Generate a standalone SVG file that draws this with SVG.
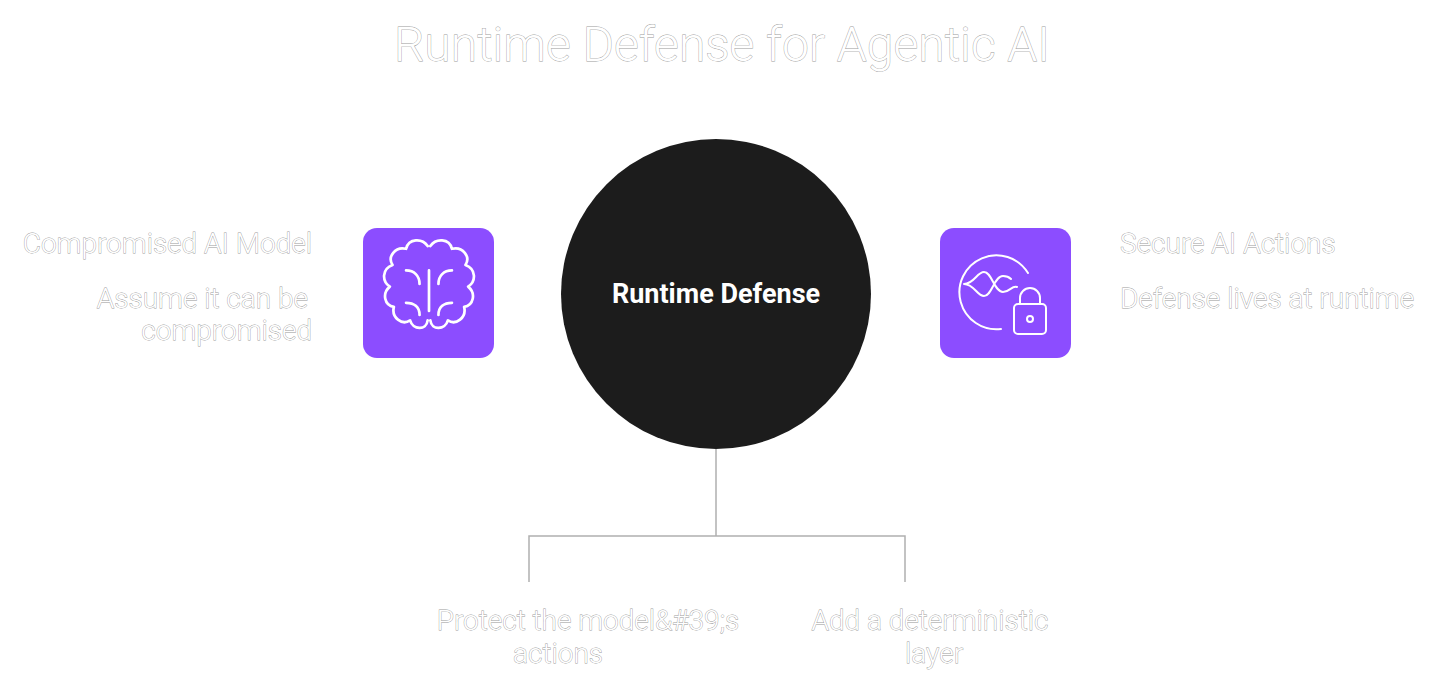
<svg xmlns="http://www.w3.org/2000/svg" width="1440" height="695" viewBox="0 0 1440 695">
<style>
.t{font-family:Roboto,"Liberation Sans",sans-serif;font-weight:300;fill:#fff;stroke:#9a9a9a;stroke-width:0.8;paint-order:stroke}
.lbl{font-size:28px}
.box{fill:#8c4dff}
.ic{fill:none;stroke:#fff;stroke-width:2;stroke-linecap:round;stroke-linejoin:round}
.con{fill:none;stroke:#b0b0b0;stroke-width:1.5}
</style>
<text class="t" x="722" y="61" font-size="48" text-anchor="middle">Runtime Defense for Agentic AI</text>
<g id="connectors">
<path class="con" d="M716 449V536M529 582V536H905V582"/>
</g>
<g id="center">
<circle cx="716" cy="294" r="155" fill="#1c1c1c"/>
<text x="716" y="303" font-family="Roboto,'Liberation Sans',sans-serif" font-size="27" font-weight="bold" fill="#fff" text-anchor="middle">Runtime Defense</text>
</g>
<g id="left-icon">
<rect class="box" x="363" y="228" width="131" height="130" rx="14"/>
<g class="ic" transform="translate(429 292) scale(1.35) translate(-429 -292)">
<path d="M428 258c-4-6-14-6-16 2c-8-2-14 6-10 12c-8 3-8 12-2 16c-6 5-4 14 3 15c-2 8 6 14 12 10c2 7 12 8 13 0"/>
<path d="M430 258c4-6 14-6 16 2c8-2 14 6 10 12c8 3 8 12 2 16c6 5 4 14-3 15c2 8-6 14-12 10c-2 7-12 8-13 0"/>
<path d="M429 276v30M412 276c6 0 10 4 10 10M446 276c-6 0-10 4-10 10M412 300c6 0 10 3 10 9M446 300c-6 0-10 3-10 9"/>
</g>
</g>
<g id="right-icon">
<rect class="box" x="940" y="228" width="131" height="130" rx="14"/>
<g class="ic">
<path d="M1028 273a37 37 0 1 0-27 56"/>
<path d="M964 284c10 0 13-12 20-12c8 0 10 20 19 20c7 0 9-7 14-5M964 284c10 0 13 12 20 12c8 0 10-20 19-20c4 0 6 1 8 3"/>
<rect x="1014" y="304" width="32" height="30" rx="4"/>
<path d="M1020 304v-6a10 10 0 0 1 20 0v6"/>
<circle cx="1030" cy="319" r="3"/>
</g>
</g>
<g id="left-text">
<text class="t lbl" x="312" y="253" text-anchor="end">Compromised AI Model</text>
<text class="t lbl" x="308" y="308" text-anchor="end">Assume it can be</text>
<text class="t lbl" x="312" y="340" text-anchor="end">compromised</text>
</g>
<g id="right-text">
<text class="t lbl" x="1120" y="253">Secure AI Actions</text>
<text class="t lbl" x="1120" y="308">Defense lives at runtime</text>
</g>
<g id="bottom-left">
<text class="t lbl" x="588" y="630" text-anchor="middle">Protect the model&amp;#39;s</text>
<text class="t lbl" x="558" y="663" text-anchor="middle">actions</text>
</g>
<g id="bottom-right">
<text class="t lbl" x="930" y="630" text-anchor="middle">Add a deterministic</text>
<text class="t lbl" x="934" y="663" text-anchor="middle">layer</text>
</g>
</svg>
